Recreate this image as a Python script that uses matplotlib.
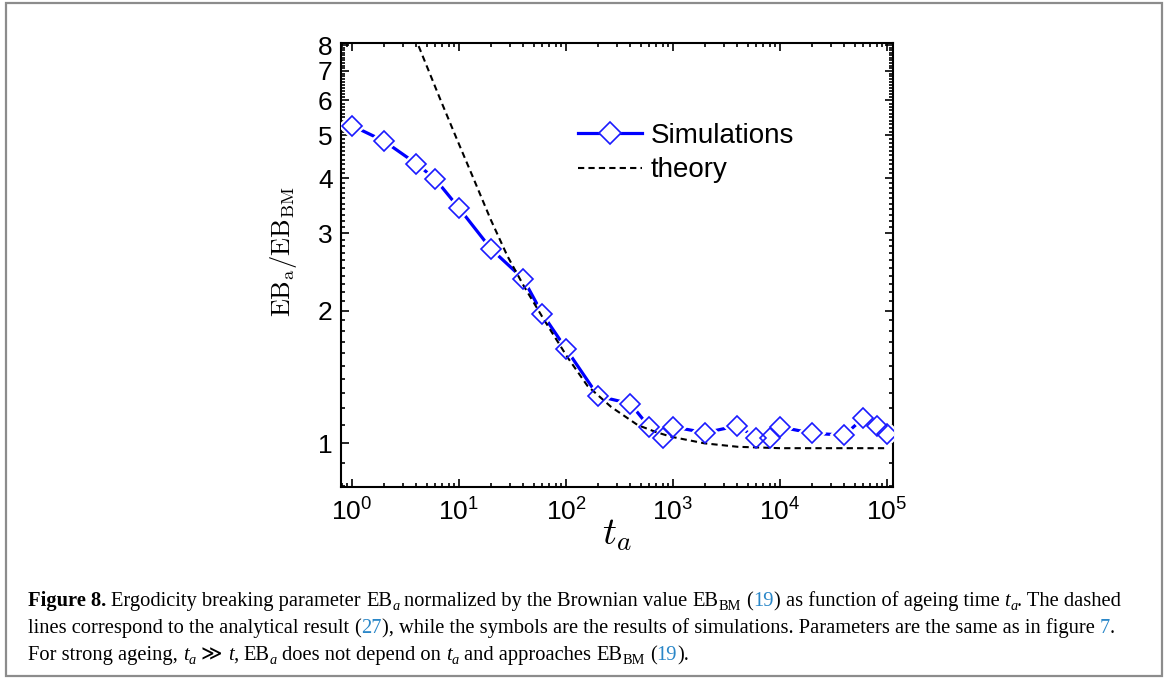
import math
import matplotlib
matplotlib.use("Agg")
import matplotlib.pyplot as plt
from matplotlib.lines import Line2D
from matplotlib.patches import Rectangle
from matplotlib.ticker import FixedLocator, LogLocator, NullFormatter, FuncFormatter

plt.rcParams['font.family'] = ['Liberation Sans', 'DejaVu Sans']
plt.rcParams['mathtext.fontset'] = 'cm'

# simulation points
t_sim = [1, 2, 4, 6, 10, 20, 40, 60, 100, 200, 400, 600, 800, 1000,
         2000, 4000, 6000, 8000, 10000, 20000, 40000, 60000, 80000, 100000]
eb_sim = [5.26, 4.85, 4.31, 3.98, 3.42, 2.76, 2.36, 1.97, 1.64, 1.28, 1.23, 1.09,
          1.03, 1.09, 1.057, 1.096, 1.03, 1.03, 1.09, 1.054, 1.044, 1.14, 1.095, 1.05]

# theory curve
t_th = [4.2, 6.7, 9.6, 13.8, 19.8, 28.4, 40.6, 63, 103, 159, 264, 469, 700,
        962, 1973, 4055, 10000, 100000]
eb_th = [7.97, 6.03, 4.89, 3.97, 3.22, 2.66, 2.27, 1.90, 1.57, 1.35, 1.21, 1.10, 1.06,
         1.035, 1.00, 0.982, 0.975, 0.975]

y_major = [1, 2, 3, 4, 5, 6, 7, 8]
y_minor = [v / 10 for v in range(8, 80) if v % 10 != 0]

W, H = 1168, 680
fig = plt.figure(figsize=(W / 100, H / 100), dpi=100)

# caption frame
fig.patches.append(Rectangle((6 / W, 1 - 676 / H), 1156 / W, 673 / H,
                             transform=fig.transFigure, fill=False,
                             edgecolor='#8c8c8c', linewidth=1.6))

ax = fig.add_axes([341 / W, 1 - 487 / H, 552 / W, 444 / H])
ax.set_xscale('log')
ax.set_yscale('log')

blue = '#0000ff'
ax.plot(t_sim, eb_sim, color=blue, lw=2.3, zorder=2)
ax.plot(t_sim, eb_sim, ls='none', marker='D', ms=10, mfc='white', mec='white',
        mew=4.5, zorder=3)
ax.plot(t_th, eb_th, color='black', lw=1.5, ls=(0, (3, 2)), zorder=4)
ax.plot(t_sim, eb_sim, ls='none', marker='D', ms=10, mfc='none', mec='#1a1aff',
        mew=1.2, zorder=5)

ax.set_xlim(0.79, 1.14e5)
ax.set_ylim(0.796, 8.1)

ax.xaxis.set_major_locator(FixedLocator([1, 10, 100, 1000, 1e4, 1e5]))
ax.xaxis.set_minor_locator(LogLocator(base=10, subs=range(2, 10), numticks=20))
ax.xaxis.set_major_formatter(FuncFormatter(
    lambda v, p: r'$\mathdefault{10^{%d}}$' % round(math.log10(v))))
ax.xaxis.set_minor_formatter(NullFormatter())
ax.yaxis.set_major_locator(FixedLocator(y_major))
ax.yaxis.set_minor_locator(FixedLocator(y_minor))
ax.yaxis.set_major_formatter(FuncFormatter(lambda v, p: '%d' % v))
ax.yaxis.set_minor_formatter(NullFormatter())

ax.tick_params(which='both', direction='in', top=True, right=True, width=1.2,
               labelsize=19)
ax.tick_params(which='major', length=6)
ax.tick_params(which='minor', length=3)
ax.tick_params(axis='x', pad=8)
ax.tick_params(axis='y', pad=6)
for s in ax.spines.values():
    s.set_linewidth(1.5)

ax.set_xlabel(r'$t_a$', fontsize=28, labelpad=-6)
ax.set_ylabel(r'$\mathrm{EB_a/EB_{BM}}$', fontsize=19)
ax.yaxis.set_label_coords(-0.076, 0.53)

handles = [Line2D([], [], color=blue, lw=2.3, marker='D', ms=11, mfc='white',
                  mec='#1a1aff', mew=1.2),
           Line2D([], [], color='black', lw=1.5, ls=(0, (3, 2)))]
ax.legend(handles, ['Simulations', 'theory'], loc='upper left',
          bbox_to_anchor=(0.4296, 0.82), frameon=False, borderpad=0,
          borderaxespad=0, handlelength=2.3, handletextpad=0.3,
          labelspacing=0.3, fontsize=20)

# caption, written piece by piece so colours and subscripts can change
serif = ['Liberation Serif', 'DejaVu Sans']
link = '#2a87c8'
cap_size = 14.8
renderer = fig.canvas.get_renderer()


def text_width(s, **kw):
    t = fig.text(0, 0, s, **kw)
    w = t.get_window_extent(renderer).width
    t.remove()
    return w


space_w = text_width('a a', family=serif, size=cap_size) - text_width('aa', family=serif, size=cap_size)


def caption_line(x, y, pieces):
    for p in pieces:
        if p == ' ':
            x += space_w
            continue
        s, opts = p
        kw = dict(family=serif, size=cap_size, color='black')
        dy = opts.pop('dy', 0)
        kw.update(opts)
        t = fig.text(x / W, 1 - (y + dy) / H, s, va='baseline', ha='left', **kw)
        x += t.get_window_extent(renderer).width


sub = dict(size=cap_size * 0.7, dy=4)
sub_i = dict(size=cap_size * 0.7, dy=4, style='italic')

caption_line(28, 606, [
    ('Figure 8.', dict(weight='bold')), ' ',
    ('Ergodicity breaking parameter', {}), ' ',
    ('EB', {}), ('a', dict(sub_i)), ' ',
    ('normalized by the Brownian value', {}), ' ',
    ('EB', {}), ('BM', dict(sub)), ' ',
    ('(', {}), ('19', dict(color=link)), (')', {}), ' ',
    ('as function of ageing time', {}), ' ',
    ('t', dict(style='italic')), ('a', dict(sub_i)), ('. The dashed', {}),
])
caption_line(28, 633, [
    ('lines correspond to the analytical result', {}), ' ',
    ('(', {}), ('27', dict(color=link)),
    ('), while the symbols are the results of simulations. Parameters are the same as in figure', {}),
    ' ', ('7', dict(color=link)), ('.', {}),
])
caption_line(28, 660, [
    ('For strong ageing,', {}), ' ',
    ('t', dict(style='italic')), ('a', dict(sub_i)), ' ',
    ('\u226b', {}), ' ', ('t', dict(style='italic')), (',', {}), ' ',
    ('EB', {}), ('a', dict(sub_i)), ' ',
    ('does not depend on', {}), ' ',
    ('t', dict(style='italic')), ('a', dict(sub_i)), ' ',
    ('and approaches', {}), ' ',
    ('EB', {}), ('BM', dict(sub)), ' ',
    ('(', {}), ('19', dict(color=link)), (').', {}),
])

fig.savefig('out.png', dpi=100)
